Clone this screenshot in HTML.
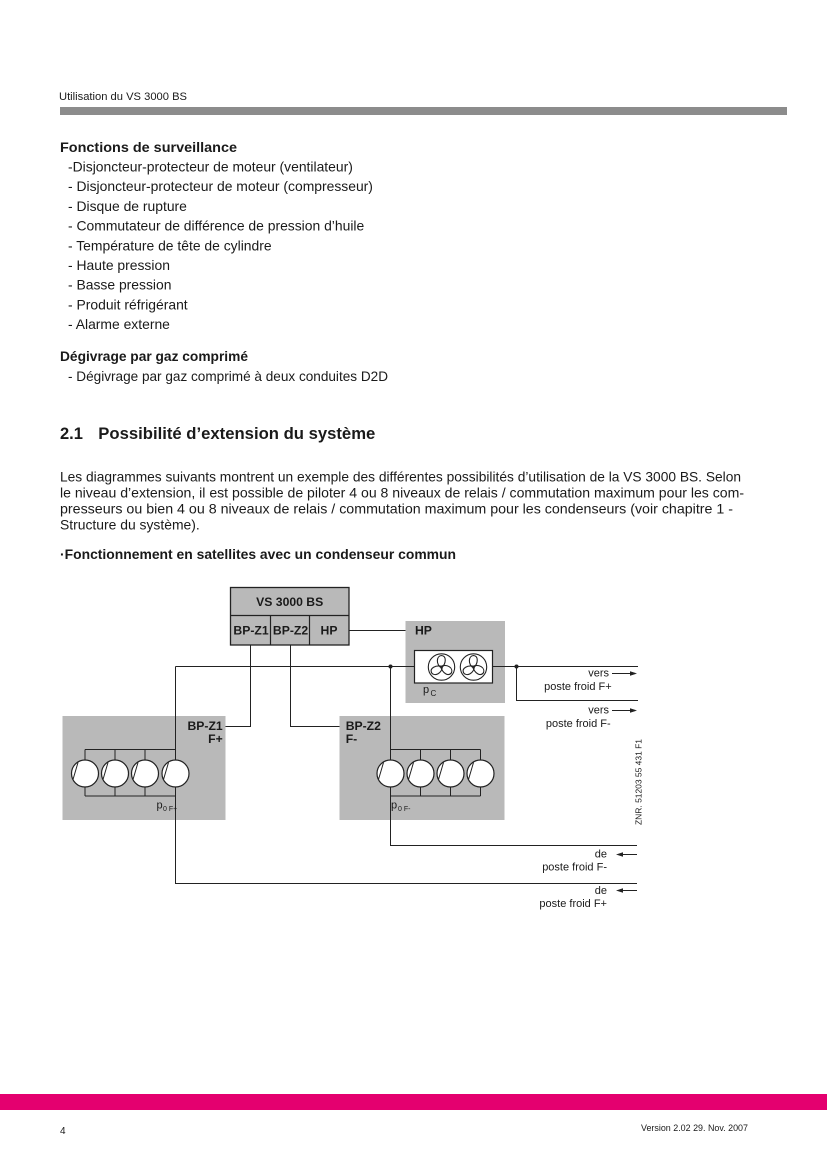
<!DOCTYPE html>
<html><head><meta charset="utf-8"><style>
html,body{margin:0;padding:0;background:#fff;}
svg{display:block;}
text{font-family:"Liberation Sans",Arial,sans-serif;fill:#1a1a1a;}
.b{font-weight:bold;}
</style></head><body>
<svg width="827" height="1169" viewBox="0 0 827 1169" xmlns="http://www.w3.org/2000/svg">
<rect x="0" y="0" width="827" height="1169" fill="#fff"/>
<!-- header -->
<text x="59" y="100" font-size="11" textLength="128" lengthAdjust="spacingAndGlyphs" fill="#333">Utilisation du VS 3000 BS</text>
<rect x="60" y="107" width="727" height="8" fill="#8c8c8c"/>

<!-- Fonctions -->
<text class="b" x="60" y="152" font-size="14" textLength="177" lengthAdjust="spacingAndGlyphs">Fonctions de surveillance</text>
<g font-size="13.9">
<text x="68" y="171.5">-Disjoncteur-protecteur de moteur (ventilateur)</text>
<text x="68" y="191.2">- Disjoncteur-protecteur de moteur (compresseur)</text>
<text x="68" y="210.9">- Disque de rupture</text>
<text x="68" y="230.6">- Commutateur de différence de pression d’huile</text>
<text x="68" y="250.3">- Température de tête de cylindre</text>
<text x="68" y="270">- Haute pression</text>
<text x="68" y="289.7">- Basse pression</text>
<text x="68" y="309.4">- Produit réfrigérant</text>
<text x="68" y="329.1">- Alarme externe</text>
</g>

<text class="b" x="60" y="361" font-size="14" textLength="188" lengthAdjust="spacingAndGlyphs">Dégivrage par gaz comprimé</text>
<text x="68" y="381" font-size="13.9" textLength="320" lengthAdjust="spacingAndGlyphs">- Dégivrage par gaz comprimé à deux conduites D2D</text>

<text class="b" x="60" y="439" font-size="16.5">2.1</text>
<text class="b" x="98.3" y="439" font-size="16.8" textLength="277" lengthAdjust="spacingAndGlyphs">Possibilité d’extension du système</text>

<g font-size="13.9">
<text x="60" y="481.5" textLength="681" lengthAdjust="spacingAndGlyphs">Les diagrammes suivants montrent un exemple des différentes possibilités d’utilisation de la VS 3000 BS. Selon</text>
<text x="60" y="497.5" textLength="684" lengthAdjust="spacingAndGlyphs">le niveau d’extension, il est possible de piloter 4 ou 8 niveaux de relais / commutation maximum pour les com-</text>
<text x="60" y="513.5" textLength="673" lengthAdjust="spacingAndGlyphs">presseurs ou bien 4 ou 8 niveaux de relais / commutation maximum pour les condenseurs (voir chapitre 1 -</text>
<text x="60" y="529.5">Structure du système).</text>
</g>
<text class="b" x="60" y="559" font-size="13.8" textLength="396" lengthAdjust="spacingAndGlyphs">·Fonctionnement en satellites avec un condenseur commun</text>

<!-- DIAGRAM -->
<rect x="405.5" y="621" width="99.5" height="82" fill="#b9b9b9"/>
<rect x="62.5" y="716" width="163" height="104" fill="#b9b9b9"/>
<rect x="339.5" y="716" width="165" height="104" fill="#b9b9b9"/>

<!-- VS box -->
<rect x="230.5" y="587.5" width="118.5" height="57.5" fill="#b9b9b9" stroke="#222" stroke-width="1.3"/>
<g stroke="#222" stroke-width="1.2" fill="none">
<path d="M230.5,615.5 H349 M270.5,615.5 V645 M309.5,615.5 V645"/>
</g>
<text class="b" x="289.7" y="606" font-size="12.2" text-anchor="middle">VS 3000 BS</text>
<text class="b" x="251" y="634.5" font-size="12.2" text-anchor="middle">BP-Z1</text>
<text class="b" x="290.5" y="634.5" font-size="12.2" text-anchor="middle">BP-Z2</text>
<text class="b" x="329" y="634.5" font-size="12.2" text-anchor="middle">HP</text>

<!-- connector lines -->
<g stroke="#222" stroke-width="1" fill="none">
<path d="M349,630.5 H405.5"/>
<path d="M175.5,666.5 H414.5"/>
<path d="M175.5,666.5 V883.5 H637"/>
<path d="M492.5,666.5 H638"/>
<path d="M516.5,666.5 V700.5 H638"/>
<path d="M250.5,645 V726.5 H225.5"/>
<path d="M290.5,645 V726.5 H339.5"/>
<path d="M390.5,666.5 V845.5 H637"/>
<path d="M85,749.5 H175.5 M85,796 H175.5 M85,749.5 V796 M115,749.5 V796 M145,749.5 V796"/>
<path d="M390.5,749.5 H480.5 M390.5,796 H480.5 M420.5,749.5 V796 M450.5,749.5 V796 M480.5,749.5 V796"/>
<path d="M612,673.5 H634 M612,710.5 H634 M619,854.5 H637 M619,890.5 H637"/>
</g>
<g fill="#222">
<polygon points="630,671.3 637,673.5 630,675.7"/>
<polygon points="630,708.3 637,710.5 630,712.7"/>
<polygon points="623,852.3 616,854.5 623,856.7"/>
<polygon points="623,888.3 616,890.5 623,892.7"/>
<circle cx="390.5" cy="666.5" r="2"/>
<circle cx="516.5" cy="666.5" r="2"/>
</g>

<!-- condenser white box + fans -->
<rect x="414.5" y="650.5" width="78" height="32.5" fill="#fff" stroke="#222" stroke-width="1.2"/>
<g stroke="#222" stroke-width="1.1" fill="none">
<g transform="translate(441.5,667)">
<circle r="13.2" fill="#fff"/>
<path d="M0,1 C-6,-3 -5,-11 0,-11.5 C5,-11 5,-4 0,1 Z"/>
<path d="M0,1 C-6,-3 -5,-11 0,-11.5 C5,-11 5,-4 0,1 Z" transform="rotate(120)"/>
<path d="M0,1 C-6,-3 -5,-11 0,-11.5 C5,-11 5,-4 0,1 Z" transform="rotate(240)"/>
</g>
<g transform="translate(473.5,667)">
<circle r="13.2" fill="#fff"/>
<path d="M0,1 C-6,-3 -5,-11 0,-11.5 C5,-11 5,-4 0,1 Z"/>
<path d="M0,1 C-6,-3 -5,-11 0,-11.5 C5,-11 5,-4 0,1 Z" transform="rotate(120)"/>
<path d="M0,1 C-6,-3 -5,-11 0,-11.5 C5,-11 5,-4 0,1 Z" transform="rotate(240)"/>
</g>
</g>

<!-- compressors -->
<g stroke="#222" stroke-width="1.2" fill="#fff">
<circle cx="85" cy="773.5" r="13.5"/>
<circle cx="115" cy="773.5" r="13.5"/>
<circle cx="145" cy="773.5" r="13.5"/>
<circle cx="175.5" cy="773.5" r="13.5"/>
<circle cx="390.5" cy="773.5" r="13.5"/>
<circle cx="420.5" cy="773.5" r="13.5"/>
<circle cx="450.5" cy="773.5" r="13.5"/>
<circle cx="480.5" cy="773.5" r="13.5"/>
</g>
<g stroke="#222" stroke-width="1" fill="none">
<path d="M78,762.5 L73,779.5 M108,762.5 L103,779.5 M138,762.5 L133,779.5 M168.5,762.5 L163.5,779.5"/>
<path d="M383.5,762.5 L378.5,779.5 M413.5,762.5 L408.5,779.5 M443.5,762.5 L438.5,779.5 M473.5,762.5 L468.5,779.5"/>
</g>

<!-- diagram labels -->
<text class="b" x="415" y="634.5" font-size="12.2">HP</text>
<text x="423" y="693" font-size="11" fill="#444">p</text>
<text x="430.5" y="696" font-size="8" fill="#444">C</text>

<text class="b" x="222.7" y="730" font-size="12.2" text-anchor="end">BP-Z1</text>
<text class="b" x="222.7" y="743" font-size="12.2" text-anchor="end">F+</text>
<text class="b" x="345.7" y="730" font-size="12.2">BP-Z2</text>
<text class="b" x="345.7" y="743" font-size="12.2">F-</text>

<text x="156.5" y="808.5" font-size="11" fill="#444">p</text>
<text x="163" y="811" font-size="7" fill="#444">0 F+</text>
<text x="391" y="808.5" font-size="11" fill="#444">p</text>
<text x="398" y="811" font-size="7" fill="#444">0 F-</text>

<g font-size="11" fill="#222">
<text x="609" y="676.5" text-anchor="end">vers</text>
<text x="611.7" y="690" text-anchor="end">poste froid F+</text>
<text x="609" y="713.5" text-anchor="end">vers</text>
<text x="610.7" y="727" text-anchor="end">poste froid F-</text>
<text x="607" y="857.5" text-anchor="end">de</text>
<text x="607" y="870.5" text-anchor="end">poste froid F-</text>
<text x="607" y="894" text-anchor="end">de</text>
<text x="607" y="907" text-anchor="end">poste froid F+</text>
</g>
<text transform="translate(641.5,825) rotate(-90)" font-size="8.5" textLength="86" lengthAdjust="spacingAndGlyphs" fill="#333">ZNR. 51203 55 431 F1</text>

<!-- footer -->
<rect x="0" y="1094" width="827" height="16" fill="#e4006f"/>
<text x="60" y="1134" font-size="10" fill="#222">4</text>
<text x="641" y="1131" font-size="9" textLength="107" lengthAdjust="spacingAndGlyphs" fill="#222">Version 2.02   29. Nov. 2007</text>
</svg>
</body></html>
